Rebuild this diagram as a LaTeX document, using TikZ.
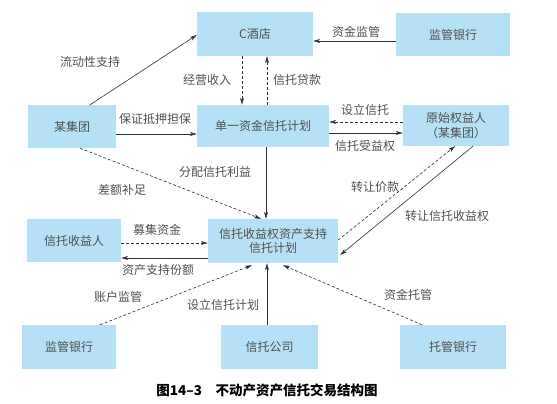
\documentclass[tikz,border=0pt]{standalone}
\usepackage{fontspec}
\setmainfont{Noto Sans CJK SC}
\usetikzlibrary{calc,arrows.meta}
\definecolor{boxblue}{HTML}{B5E0F5}
\definecolor{txtgray}{HTML}{505050}
\definecolor{linegray}{HTML}{303030}
\begin{document}
\begin{tikzpicture}[x=1pt,y=-1pt,
  box/.style={fill=boxblue,draw=none,inner sep=0pt,align=center,text=txtgray,font=\fontsize{12}{14.5}\selectfont},
  lbl/.style={text=txtgray,inner sep=0pt,font=\fontsize{12}{14.5}\selectfont},
  arr/.style={draw=linegray,line width=0.6pt,-{Stealth[length=7pt,width=4pt,inset=2pt]}},
  dsh/.style={arr,dash pattern=on 3pt off 2pt}]
\useasboundingbox (0,0) rectangle (557,404);
% boxes
\node[box,minimum width=116pt,minimum height=44pt] (hotel) at (255,34) {C酒店};
\node[box,minimum width=114pt,minimum height=43pt] (bank1) at (453,34.5) {监管银行};
\node[box,minimum width=88pt,minimum height=43pt] (ji) at (72,126.5) {某集团};
\node[box,minimum width=132pt,minimum height=42pt] (dan) at (263,126) {单一资金信托计划};
\node[box,minimum width=106pt,minimum height=41pt] (yuan) at (456,125.5) {原始权益人\\（某集团）};
\node[box,minimum width=130pt,minimum height=44pt] (plan) at (273,241) {信托收益权资产支持\\信托计划};
\node[box,minimum width=94pt,minimum height=43pt] (shou) at (74,240.5) {信托收益人};
\node[box,minimum width=94pt,minimum height=44pt] (bank2) at (69,347) {监管银行};
\node[box,minimum width=97pt,minimum height=44pt] (xin) at (269.5,347) {信托公司};
\node[box,minimum width=106pt,minimum height=44pt] (tuo) at (453,347) {托管银行};
% connectors
\draw[arr] ($(ji.north)+(18,0)$) -- ($(hotel.west)+(0,1)$);
\draw[dsh] ($(hotel.south)+(-13,0)$) -- ($(dan.north)+(-21,0)$);
\draw[dsh] ($(dan.north)+(4,0)$) -- ($(hotel.south)+(12,0)$);
\draw[arr] ($(bank1.west)+(0,6.5)$) -- ($(hotel.east)+(0,7)$);
\draw[arr] ($(ji.east)+(0,7.5)$) -- ($(dan.west)+(0,8)$);
\draw[dsh] ($(yuan.west)+(0,-3.5)$) -- ($(dan.east)+(0,-4)$);
\draw[arr] ($(dan.east)+(0,7)$) -- ($(yuan.west)+(0,7.5)$);
\draw[arr] ($(dan.south)+(3,0)$) -- ($(plan.north)+(-7,0)$);
\draw[dsh] ($(ji.south)+(8,0)$) -- ($(plan.north)+(-12,0)$);
\draw[dsh] ($(plan.east)+(0,-1)$) -- ($(yuan.south)+(-1,0)$);
\draw[arr] ($(yuan.south)+(17,0)$) -- ($(plan.east)+(2,14)$);
\draw[dsh] ($(shou.east)+(0,2.5)$) -- ($(plan.west)+(0,2)$);
\draw[arr] ($(plan.west)+(0,17)$) -- ($(shou.east)+(0,17.5)$);
\draw[dsh] ($(bank2.north)+(31,0)$) -- ($(plan.south)+(-21,2)$);
\draw[arr] ($(xin.north)+(-2.5,0)$) -- ($(plan.south)+(-6,0)$);
\draw[dsh] ($(tuo.north)+(-31,0)$) -- ($(plan.south)+(10,2)$);
% labels
\node[lbl] (l1) at (90,62) {流动性支持};
\node[lbl] (l2) at (207,80) {经营收入};
\node[lbl] (l3) at (297,80) {信托贷款};
\node[lbl] (l4) at (356,32) {资金监管};
\node[lbl] (l5) at (155,119) {保证抵押担保};
\node[lbl] (l6) at (365,110) {设立信托};
\node[lbl] (l7) at (365,146) {信托受益权};
\node[lbl] (l8) at (215,172) {分配信托利益};
\node[lbl] (l9) at (122,190) {差额补足};
\node[lbl] (l10) at (375,187) {转让价款};
\node[lbl] (l11) at (447,216) {转让信托收益权};
\node[lbl] (l12) at (157,230) {募集资金};
\node[lbl] (l13) at (158,270) {资产支持份额};
\node[lbl] (l14) at (118,297) {账户监管};
\node[lbl] (l15) at (223,305) {设立信托计划};
\node[lbl] (l16) at (408,295) {资金托管};
% caption
\node[inner sep=0pt,font=\fontsize{13.5}{15}\selectfont\bfseries,text=black] (cap) at (267,390) {图14–3\hspace{1em}不动产资产信托交易结构图};
\end{tikzpicture}
\end{document}
